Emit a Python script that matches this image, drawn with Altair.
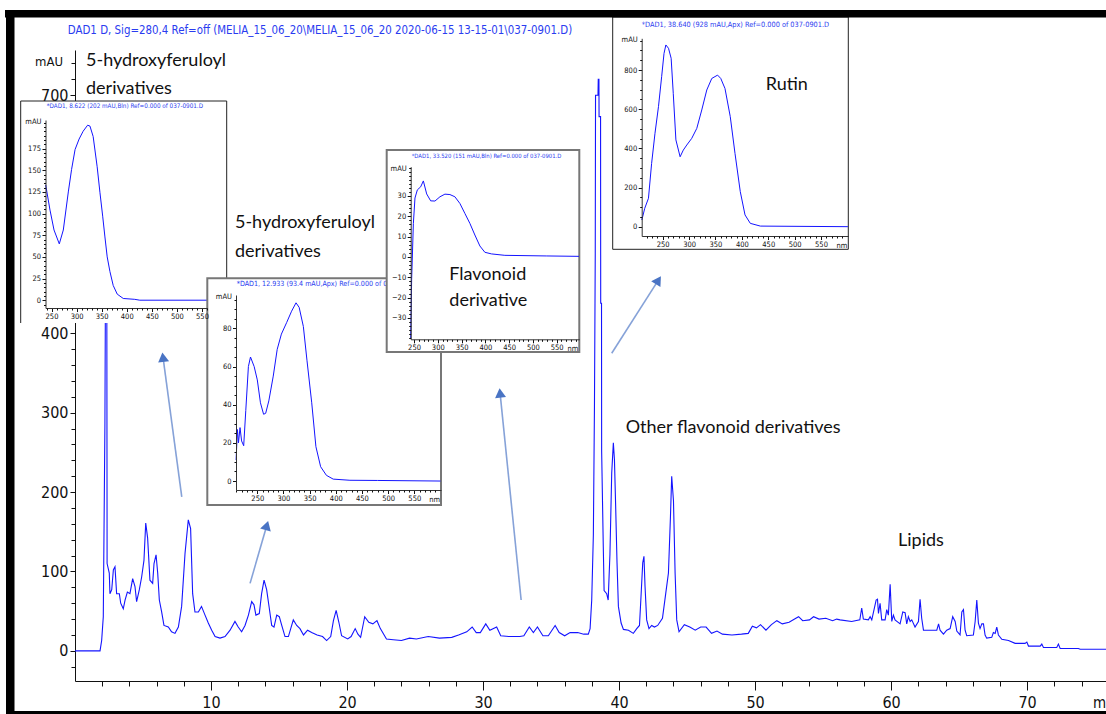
import math
import altair as alt
import pandas as pd

# ---------------- data ----------------
# main chromatogram: (retention time [min], signal [mAU])
CHROM = [
    (0.0, 0), (1.84, 0), (1.96, 13), (2.08, 43), (2.2, 287), (2.27, 600), (2.33, 600), (2.36, 110),
    (2.52, 98), (2.57, 72), (2.7, 77), (2.82, 102), (2.94, 106), (3.06, 72), (3.26, 72), (3.36, 60),
    (3.55, 53), (3.68, 64), (3.85, 74), (4.04, 72), (4.24, 91), (4.41, 81), (4.53, 62), (4.73, 77),
    (4.9, 93), (5.07, 114), (5.2, 161), (5.34, 142), (5.51, 89), (5.71, 85), (5.81, 110), (5.96, 121),
    (6.08, 98), (6.2, 64), (6.37, 49), (6.54, 32), (6.86, 30), (7.1, 24), (7.35, 22), (7.6, 30),
    (7.84, 56), (8.09, 123), (8.33, 165), (8.5, 154), (8.65, 72), (8.82, 49), (9.07, 49), (9.3, 56),
    (9.56, 45), (9.8, 35), (10.05, 26), (10.3, 18), (10.66, 16), (11.03, 18), (11.4, 26), (11.76, 37),
    (12.0, 30), (12.25, 24), (12.5, 32), (12.75, 45), (12.99, 62), (13.16, 58), (13.3, 45), (13.55, 47),
    (13.72, 72), (13.9, 89), (14.09, 77), (14.29, 53), (14.46, 32), (14.63, 30), (14.83, 45), (15.02, 43),
    (15.2, 32), (15.44, 18), (15.69, 18), (15.86, 28), (16.05, 39), (16.3, 32), (16.54, 28), (16.8, 20),
    (17.1, 26), (17.4, 23), (17.8, 20), (18.2, 18), (18.5, 13), (18.8, 18), (19.0, 38), (19.2, 51),
    (19.4, 36), (19.6, 19), (20.05, 15), (20.3, 18), (20.6, 28), (20.8, 21), (21.0, 17), (21.3, 43),
    (21.6, 36), (21.9, 34), (22.2, 38), (22.45, 28), (22.9, 15), (23.4, 14), (24.0, 13), (24.6, 16),
    (25.1, 15), (25.97, 18), (26.8, 16), (27.7, 17), (28.2, 20), (28.8, 24), (29.2, 30), (29.5, 23),
    (29.8, 23), (30.2, 34), (30.5, 26), (31.0, 30), (31.3, 19), (31.9, 18), (32.7, 18), (33.0, 19),
    (33.4, 30), (33.7, 23), (34.0, 30), (34.4, 19), (34.8, 19), (35.3, 32), (35.6, 23), (36.0, 19),
    (36.4, 23), (36.96, 23), (37.4, 21), (37.74, 21), (37.87, 28), (37.99, 64), (38.11, 146), (38.19, 306),
    (38.25, 501), (38.27, 700), (38.45, 700), (38.47, 720), (38.52, 720), (38.53, 673), (38.64, 673),
    (38.65, 438), (38.71, 438), (38.72, 251), (38.84, 131), (38.9, 76), (39.09, 72), (39.2, 64),
    (39.33, 122), (39.46, 224), (39.58, 262), (39.66, 241), (39.75, 182), (39.85, 111), (39.95, 56),
    (40.15, 35), (40.32, 27), (40.69, 26), (41.05, 22), (41.3, 28), (41.5, 32), (41.6, 64), (41.74, 111),
    (41.83, 119), (41.91, 81), (42.03, 39), (42.2, 28), (42.4, 32), (42.6, 30), (42.84, 32), (43.19, 41),
    (43.43, 72), (43.63, 98), (43.78, 170), (43.87, 220), (44.0, 189), (44.12, 98), (44.24, 39),
    (44.41, 24), (44.8, 33), (45.2, 30), (45.6, 26), (46.0, 30), (46.4, 30), (46.8, 22), (47.2, 25),
    (47.6, 21), (48.3, 20), (49.0, 21), (49.5, 22), (49.8, 31), (50.1, 29), (50.4, 33), (50.8, 26),
    (51.2, 33), (51.6, 38), (52.0, 34), (52.5, 36), (53.0, 41), (53.2, 43), (53.5, 38), (54.0, 39),
    (54.3, 43), (54.7, 40), (55.2, 41), (55.7, 38), (56.0, 40), (56.25, 39), (57.1, 37), (57.7, 39),
    (57.84, 54), (57.96, 40), (58.33, 39), (58.46, 43), (58.58, 39), (58.9, 64), (59.0, 65), (59.07, 47),
    (59.19, 60), (59.31, 39), (59.56, 39), (59.68, 52), (59.8, 45), (59.93, 84), (60.05, 37), (60.17, 45),
    (60.29, 39), (60.66, 34), (60.86, 49), (61.03, 48), (61.15, 34), (61.27, 43), (61.4, 37), (61.52, 39),
    (61.76, 30), (62.01, 37), (62.13, 65), (62.25, 41), (62.38, 26), (63.36, 26), (63.49, 34), (63.6, 26),
    (63.85, 21), (64.09, 26), (64.34, 28), (64.53, 43), (64.71, 37), (64.83, 25), (65.07, 20), (65.2, 49),
    (65.32, 52), (65.44, 26), (65.56, 19), (66.05, 20), (66.18, 37), (66.3, 64), (66.42, 35), (66.54, 28),
    (66.67, 34), (66.79, 34), (66.91, 20), (67.03, 16), (67.4, 17), (67.52, 23), (67.65, 22), (67.77, 30),
    (67.89, 20), (68.14, 14.5), (68.63, 13), (69.12, 9.4), (69.85, 9.4), (69.98, 11), (70.1, 6),
    (70.96, 6), (71.08, 8.5), (71.2, 4.3), (72.18, 4.3), (72.3, 8.5), (72.43, 3), (73.77, 3), (73.9, 2),
    (75.8, 2),
]

# UV spectra of the insets: (wavelength [nm], absorbance [mAU])
UV_1 = [(238.4, 133), (247, 104), (255, 81), (265.5, 65), (273.5, 81), (283.5, 125), (290, 151),
        (297, 174), (305, 186), (313, 195), (322, 202), (326.6, 201), (333, 189), (341, 154),
        (346.6, 124), (352, 97), (356.5, 73), (361, 50), (366.5, 33), (373, 17), (381, 7), (393, 2),
        (416, 1), (426, 0), (560, 0)]
UV_2 = [(209.5, 11), (212, 27), (214, 20), (217, 28), (220, 21), (224, 18.5), (228, 37), (233, 60),
        (237, 65), (244, 60), (250, 53), (256, 41), (262, 35), (266, 35.5), (272, 42), (280.5, 55),
        (288, 69), (296, 77), (306, 83), (315.5, 89), (324, 93.4), (330, 91), (338, 81), (345, 63),
        (354, 41), (362, 18), (371, 7.5), (382, 3), (395, 1), (427, 0.4), (480, 0.3), (600, 0)]
UV_3 = [(243, -40), (245, -11), (248.6, 16.5), (252, 29), (257, 33), (264, 34.5), (269.6, 37.4),
        (276.6, 31), (285, 27.6), (294, 27.5), (304.5, 29.6), (315, 30.9), (325.5, 30.7), (336, 29.6),
        (346.5, 26.3), (357, 21.4), (367.5, 16.5), (378, 10.8), (388.5, 5.4), (399, 2.3), (413, 1.5),
        (441, 0.8), (528, 0.5), (597, 0.3)]
UV_4 = [(210.5, 34), (216, 94), (223, 145), (229, 323), (235.4, 477), (242, 613), (248, 766),
        (252.5, 885), (256, 928), (261, 911), (266, 860), (270, 681), (275, 443), (283, 357),
        (289, 391), (295.6, 417), (305, 451), (314.6, 502), (324, 596), (333.5, 698), (343, 757),
        (354, 774), (360, 757), (368, 706), (378, 562), (387, 374), (397, 179), (406, 60), (416, 17),
        (435, 3), (601, 0)]

MAIN_TITLE = r"DAD1 D, Sig=280,4 Ref=off (MELIA_15_06_20\MELIA_15_06_20 2020-06-15 13-15-01\037-0901.D)"
INSET_TITLES = [
    "*DAD1, 8.622 (202 mAU,Bln) Ref=0.000 of 037-0901.D",
    "*DAD1, 12.933 (93.4 mAU,Apx) Ref=0.000 of 037-0901.D",
    "*DAD1, 33.520 (151 mAU,Bln) Ref=0.000 of 037-0901.D",
    "*DAD1, 38.640 (928 mAU,Apx) Ref=0.000 of 037-0901.D",
]

# annotations in chromatogram units (min, mAU)
NOTES = [
    ("5-hydroxyferuloyl", 0.81, 737), ("derivatives", 0.81, 702),
    ("5-hydroxyferuloyl", 11.76, 533), ("derivatives", 11.76, 496),
    ("Flavonoid", 27.52, 467), ("derivative", 27.52, 434),
    ("Rutin", 50.79, 707),
    ("Other flavonoid derivatives", 40.49, 275),
    ("Lipids", 60.51, 132),
]
ARROWS = [  # (tail t, tail mAU, head t, head mAU)
    (7.85, 194, 6.47, 370),
    (12.87, 85, 14.1, 158),
    (32.8, 64, 31.25, 325),
    (39.46, 375, 42.89, 467),
]

# ---------------- layout / style ----------------
PAD_L, PAD_T, PAD_B = 75, 50, 33
W, H = 1031, 631
X_DOM = [0, 75.8]
Y_DOM = [-38, 757]
NARROW = "Liberation Sans Narrow, DejaVu Sans Condensed, Arial Narrow, sans-serif"
BLUE = "#1414ff"
TBLUE = "#2a3cf0"


def rx(px):
    return px - PAD_L


def ry(py):
    return py - PAD_T


def ax_common(**kw):
    base = dict(grid=False, title=None, labelFlush=False, labelOverlap=False, labelBound=False,
                domainColor="#111", tickColor="#111", labelColor="#111", labelFont=NARROW,
                domainWidth=1, tickWidth=1)
    base.update(kw)
    return alt.Axis(**base)


XS = alt.Scale(domain=X_DOM, nice=False, zero=False)
YS = alt.Scale(domain=Y_DOM, nice=False, zero=False)

main_df = pd.DataFrame(CHROM, columns=["t", "mAU"])

x_major = [v for v in range(10, 76, 10)]
x_minor = [v for v in range(2, 76, 2) if v % 10]
y_major = [v for v in range(0, 701, 100)]
y_minor = [v for v in range(-20, 741, 20) if v % 100]

layers = []

# main chromatogram (axes behind the insets)
layers.append(
    alt.Chart(main_df).mark_line(color=BLUE, strokeWidth=1.1).encode(
        x=alt.X("t:Q", scale=XS, axis=ax_common(orient="bottom", values=x_major, tickSize=9,
                                                 labelFontSize=16, labelPadding=4, format="d")),
        y=alt.Y("mAU:Q", scale=YS, axis=ax_common(orient="left", values=y_major, tickSize=5,
                                                   labelFontSize=16, labelPadding=2, format="d")),
    )
)
layers.append(
    alt.Chart(main_df).mark_line(strokeOpacity=0).encode(
        x=alt.X("t:Q", scale=XS, axis=ax_common(orient="bottom", values=x_minor, tickSize=5,
                                                 labels=False, domain=False)),
        y=alt.Y("mAU:Q", scale=YS, axis=ax_common(orient="left", values=y_minor, tickSize=4,
                                                   labels=False, domain=False)),
    )
)

# axis captions of the main chart
cap_df = pd.DataFrame([{"t": X_DOM[0], "mAU": 742, "s": "mAU"}])
layers.append(
    alt.Chart(cap_df).mark_text(align="right", baseline="middle", dx=-12, font=NARROW, fontSize=13,
                                color="#111").encode(
        x=alt.X("t:Q", scale=XS, axis=None), y=alt.Y("mAU:Q", scale=YS, axis=None), text="s:N")
)
min_df = pd.DataFrame([{"t": X_DOM[1], "mAU": Y_DOM[0], "s": "min"}])
layers.append(
    alt.Chart(min_df).mark_text(align="left", baseline="middle", dx=-13, dy=22, font=NARROW,
                                fontSize=15, color="#111").encode(
        x=alt.X("t:Q", scale=XS, axis=None), y=alt.Y("mAU:Q", scale=YS, axis=None), text="s:N")
)

# main title
layers.append(
    alt.Chart().mark_text(text=MAIN_TITLE, align="center", baseline="middle", font=NARROW,
                          fontSize=11.4, color=TBLUE).encode(x=alt.value(rx(320)), y=alt.value(ry(31)))
)

# ---------------- insets ----------------
INSETS = [
    dict(data=UV_1, xdom=[238, 560], xpx=[45.5, 207], ydom=[-9, 208], ypx=[308, 120],
         ymaj=list(range(0, 176, 25)), ystep=5, ylo=-5, yhi=205, xlo=240, xhi=560,
         box=(20.7, 101, 226.7, 323), sides="tlr", stroke="#222", sw=1,
         title_xy=(46.7, 106), tfs=6.3, nm=False),
    dict(data=UV_2, xdom=[209.3, 601], xpx=[236, 441], ydom=[-4.7, 97.5], ypx=[490, 295],
         ymaj=list(range(0, 81, 20)), ystep=5, ylo=0, yhi=95, xlo=210, xhi=600,
         box=(207.3, 278.3, 441, 505), sides="all", stroke="#777", sw=2,
         title_xy=(236.7, 284), tfs=7.1, nm=True),
    dict(data=UV_3, xdom=[243, 597.6], xpx=[410.7, 579.3], ydom=[-40.5, 44.4], ypx=[339.3, 166.7],
         ymaj=list(range(-30, 31, 10)), ystep=2, ylo=-40, yhi=44, xlo=250, xhi=590,
         box=(386.7, 150, 579.3, 352), sides="all", stroke="#777", sw=2,
         title_xy=(411.7, 156), tfs=5.9, nm=True),
    dict(data=UV_4, xdom=[210.2, 601.7], xpx=[641.7, 848.3], ydom=[-47.6, 962], ypx=[236, 38.3],
         ymaj=list(range(0, 801, 200)), ystep=50, ylo=0, yhi=950, xlo=220, xhi=600,
         box=(612.7, 17, 848.3, 249.3), sides="all", stroke="#222", sw=1,
         title_xy=(641.7, 25), tfs=7.3, nm=True),
]

for i, sp in enumerate(INSETS):
    x0, y0, x1, y1 = sp["box"]
    if sp["sides"] == "all":
        layers.append(alt.Chart().mark_rect(fill="white", stroke=sp["stroke"], strokeWidth=sp["sw"]).encode(
            x=alt.value(rx(x0)), x2=alt.value(rx(x1)), y=alt.value(ry(y0)), y2=alt.value(ry(y1))))
    else:
        layers.append(alt.Chart().mark_rect(fill="white").encode(
            x=alt.value(rx(x0)), x2=alt.value(rx(x1)), y=alt.value(ry(y0)), y2=alt.value(ry(y1))))
        for (a, b, c, d) in [(x0, y0, x1, y0), (x0, y0, x0, y1), (x1, y0, x1, y1)]:
            layers.append(alt.Chart().mark_rule(color=sp["stroke"], strokeWidth=sp["sw"]).encode(
                x=alt.value(rx(a)), x2=alt.value(rx(c)), y=alt.value(ry(b)), y2=alt.value(ry(d))))

    df = pd.DataFrame(sp["data"], columns=["nm", "mAU"])
    xsc = alt.Scale(domain=sp["xdom"], range=[rx(sp["xpx"][0]), rx(sp["xpx"][1])], nice=False, zero=False)
    ysc = alt.Scale(domain=sp["ydom"], range=[ry(sp["ypx"][0]), ry(sp["ypx"][1])], nice=False, zero=False)
    x_off = sp["ypx"][0] - (PAD_T + H)
    y_off = PAD_L - sp["xpx"][0]
    xmaj = [v for v in range(250, 551, 50) if sp["xdom"][0] <= v <= sp["xdom"][1]]
    xmin = [v for v in range(sp["xlo"], sp["xhi"] + 1, 10) if v % 50 and sp["xdom"][0] <= v <= sp["xdom"][1]]
    ymin = [v for v in range(sp["ylo"], sp["yhi"] + 1, sp["ystep"]) if v not in sp["ymaj"]]

    layers.append(
        alt.Chart(df).mark_line(color=BLUE, strokeWidth=1).encode(
            x=alt.X("nm:Q", scale=xsc, axis=ax_common(orient="bottom", offset=x_off, values=xmaj,
                                                       tickSize=3.5, labelFontSize=7.5, labelPadding=1,
                                                       zindex=1, format="d", domainColor="#333")),
            y=alt.Y("mAU:Q", scale=ysc, axis=ax_common(orient="left", offset=y_off, values=sp["ymaj"],
                                                        tickSize=3.5, labelFontSize=7.5, labelPadding=1.5,
                                                        zindex=1, format="d", domainColor="#333")),
        )
    )
    layers.append(
        alt.Chart(df).mark_line(strokeOpacity=0).encode(
            x=alt.X("nm:Q", scale=xsc, axis=ax_common(orient="bottom", offset=x_off, values=xmin,
                                                       tickSize=2, labels=False, domain=False, zindex=1)),
            y=alt.Y("mAU:Q", scale=ysc, axis=ax_common(orient="left", offset=y_off, values=ymin,
                                                        tickSize=2, labels=False, domain=False, zindex=1)),
        )
    )
    tx, ty = sp["title_xy"]
    layers.append(alt.Chart().mark_text(text=INSET_TITLES[i], align="left", baseline="middle", font=NARROW,
                                        fontSize=sp["tfs"], color=TBLUE).encode(
        x=alt.value(rx(tx)), y=alt.value(ry(ty))))
    layers.append(alt.Chart().mark_text(text="mAU", align="right", baseline="middle", font=NARROW,
                                        fontSize=7.5, color="#111").encode(
        x=alt.value(rx(sp["xpx"][0] - 4)), y=alt.value(ry(sp["ypx"][1] + 2))))
    if sp["nm"]:
        layers.append(alt.Chart().mark_text(text="nm", align="right", baseline="middle", font=NARROW,
                                            fontSize=7.5, color="#111").encode(
            x=alt.value(rx(sp["xpx"][1] - 1)), y=alt.value(ry(sp["ypx"][0] + 10))))

# ---------------- annotations ----------------
notes_df = pd.DataFrame(NOTES, columns=["label", "t", "mAU"])
layers.append(
    alt.Chart(notes_df).mark_text(align="left", baseline="alphabetic", font="Lato", fontSize=18,
                                  color="#111").encode(
        x=alt.X("t:Q", scale=XS, axis=None), y=alt.Y("mAU:Q", scale=YS, axis=None), text="label:N")
)

px_per_min = W / (X_DOM[1] - X_DOM[0])
px_per_mau = H / (Y_DOM[1] - Y_DOM[0])
seg_rows, head_rows = [], []
for k, (t0, m0, t1, m1) in enumerate(ARROWS):
    seg_rows += [{"id": k, "t": t0, "mAU": m0}, {"id": k, "t": t1, "mAU": m1}]
    dx = (t1 - t0) * px_per_min
    dy = -(m1 - m0) * px_per_mau
    ang = math.degrees(math.atan2(dx, -dy)) % 360
    head_rows.append({"t": t1, "mAU": m1, "ang": ang})
layers.append(
    alt.Chart(pd.DataFrame(seg_rows)).mark_line(color="#86a2d8", strokeWidth=1.6).encode(
        x=alt.X("t:Q", scale=XS, axis=None), y=alt.Y("mAU:Q", scale=YS, axis=None), detail="id:N")
)
layers.append(
    alt.Chart(pd.DataFrame(head_rows)).mark_point(shape="triangle-up", filled=True, size=120,
                                                  color="#4a74c4", opacity=1).encode(
        x=alt.X("t:Q", scale=XS, axis=None), y=alt.Y("mAU:Q", scale=YS, axis=None),
        angle=alt.Angle("ang:Q", scale=None))
)

# ---------------- black frame ----------------
for (a, b, c, d) in [(5, 10, 1106, 17.5), (6, 10, 14.5, 714), (6, 711, 1106, 714)]:
    layers.append(alt.Chart().mark_rect(fill="black").encode(
        x=alt.value(rx(a)), x2=alt.value(rx(c)), y=alt.value(ry(b)), y2=alt.value(ry(d))))

chart = (
    alt.layer(*layers)
    .resolve_scale(x="independent", y="independent")
    .resolve_axis(x="independent", y="independent")
    .properties(width=W, height=H, background="white",
                autosize=alt.AutoSizeParams(type="none"),
                padding={"left": PAD_L, "top": PAD_T, "right": 0, "bottom": PAD_B})
    .configure_view(stroke=None)
)

chart.save("out.html", embed_options={"renderer": "svg", "actions": False})
